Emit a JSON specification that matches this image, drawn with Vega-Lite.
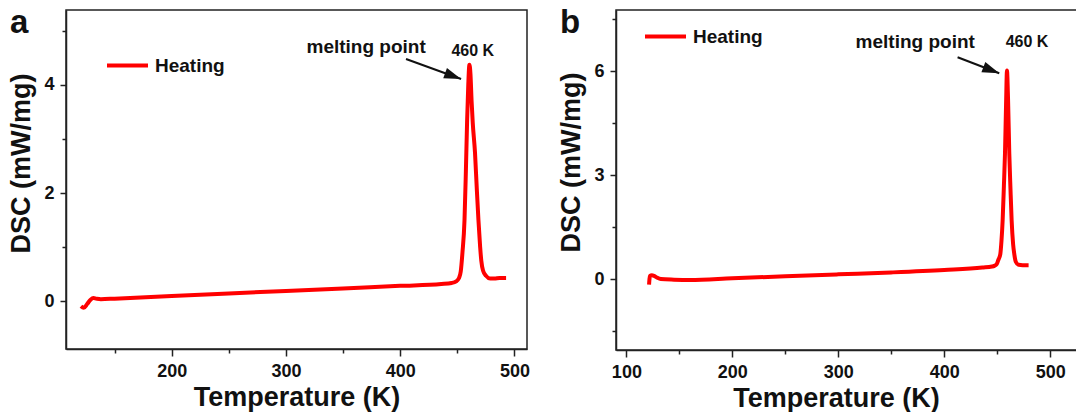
{
  "$schema": "https://vega.github.io/schema/vega-lite/v6.json",
  "background": "white",
  "padding": {"left": 7, "top": 6, "right": 0, "bottom": 0},
  "spacing": 26,
  "config": {
    "view": {"stroke": "#222", "strokeWidth": 1.5},
    "font": "Liberation Sans",
    "axis": {
      "grid": false,
      "domainColor": "#222",
      "domainWidth": 1.5,
      "tickColor": "#222",
      "tickWidth": 1.5,
      "tickSize": 7,
      "labelFont": "Liberation Sans",
      "labelFontSize": 18,
      "labelFontWeight": "bold",
      "labelColor": "#111",
      "labelPadding": 6,
      "titleFont": "Liberation Sans",
      "titleFontSize": 27,
      "titleFontWeight": "bold",
      "titleColor": "#111"
    },
    "axisY": {"labelPadding": 6, "titlePadding": 8},
    "legend": {
      "orient": "none",
      "padding": 0,
      "symbolType": "stroke",
      "symbolSize": 1681,
      "symbolStrokeWidth": 4,
      "labelFont": "Liberation Sans",
      "labelFontSize": 19,
      "labelFontWeight": "bold",
      "labelColor": "#111",
      "labelOffset": 5
    }
  },
  "datasets": {
    "curveA": [
      {"T": 120.6, "DSC": -0.09}, {"T": 123.0, "DSC": -0.12}, {"T": 126.0, "DSC": -0.05}, {"T": 129.0, "DSC": 0.03},
      {"T": 131.5, "DSC": 0.06}, {"T": 134.0, "DSC": 0.05}, {"T": 138.0, "DSC": 0.04}, {"T": 150.0, "DSC": 0.05},
      {"T": 200.0, "DSC": 0.098}, {"T": 250.0, "DSC": 0.145}, {"T": 300.0, "DSC": 0.192}, {"T": 350.0, "DSC": 0.239},
      {"T": 400.0, "DSC": 0.286}, {"T": 436.0, "DSC": 0.32}, {"T": 445.0, "DSC": 0.34}, {"T": 449.0, "DSC": 0.37},
      {"T": 451.5, "DSC": 0.43}, {"T": 453.0, "DSC": 0.55}, {"T": 454.5, "DSC": 0.9}, {"T": 456.3, "DSC": 1.5},
      {"T": 457.5, "DSC": 2.4}, {"T": 458.6, "DSC": 3.35}, {"T": 459.6, "DSC": 4.0}, {"T": 460.6, "DSC": 4.37},
      {"T": 461.5, "DSC": 4.2}, {"T": 462.5, "DSC": 3.7}, {"T": 463.5, "DSC": 3.3}, {"T": 465.5, "DSC": 2.74},
      {"T": 467.0, "DSC": 2.1}, {"T": 468.5, "DSC": 1.5}, {"T": 470.0, "DSC": 1.0}, {"T": 471.0, "DSC": 0.75},
      {"T": 472.5, "DSC": 0.57}, {"T": 475.2, "DSC": 0.47}, {"T": 478.8, "DSC": 0.42}, {"T": 482.5, "DSC": 0.42},
      {"T": 487.0, "DSC": 0.43}, {"T": 492.7, "DSC": 0.43}
    ],
    "curveB": [
      {"T": 121.4, "DSC": -0.16}, {"T": 121.8, "DSC": 0.0}, {"T": 122.3, "DSC": 0.09}, {"T": 124.0, "DSC": 0.11},
      {"T": 126.2, "DSC": 0.09}, {"T": 129.0, "DSC": 0.04}, {"T": 132.5, "DSC": 0.0}, {"T": 145.0, "DSC": -0.02},
      {"T": 160.0, "DSC": -0.03}, {"T": 200.0, "DSC": 0.02}, {"T": 250.0, "DSC": 0.08}, {"T": 300.0, "DSC": 0.135},
      {"T": 350.0, "DSC": 0.19}, {"T": 400.0, "DSC": 0.26}, {"T": 436.0, "DSC": 0.33}, {"T": 445.0, "DSC": 0.36},
      {"T": 447.2, "DSC": 0.38}, {"T": 449.5, "DSC": 0.43}, {"T": 451.0, "DSC": 0.55}, {"T": 452.9, "DSC": 0.72},
      {"T": 454.0, "DSC": 1.1}, {"T": 455.1, "DSC": 1.69}, {"T": 456.3, "DSC": 2.7}, {"T": 457.3, "DSC": 3.61},
      {"T": 458.3, "DSC": 5.0}, {"T": 459.2, "DSC": 6.02}, {"T": 460.2, "DSC": 5.2}, {"T": 461.4, "DSC": 3.61},
      {"T": 462.5, "DSC": 2.6}, {"T": 463.6, "DSC": 1.69}, {"T": 465.0, "DSC": 1.0}, {"T": 466.1, "DSC": 0.72},
      {"T": 467.5, "DSC": 0.5}, {"T": 470.2, "DSC": 0.41}, {"T": 474.0, "DSC": 0.4}, {"T": 479.6, "DSC": 0.4}
    ],
    "labelsA": [
      {"T": 370.2, "DSC": 4.586, "label": "melting point"},
      {"T": 463.5, "DSC": 4.523, "label": "460 K"}
    ],
    "labelsB": [
      {"T": 372.6, "DSC": 6.676, "label": "melting point"},
      {"T": 478.1, "DSC": 6.714, "label": "460 K"}
    ],
    "arrowA": [{"T": 405.1, "DSC": 4.475, "T2": 453.3, "DSC2": 4.105}],
    "arrowB": [{"T": 412.6, "DSC": 6.405, "T2": 451.9, "DSC2": 5.942}]
  },
  "resolve": {"scale": {"color": "independent"}, "legend": {"color": "independent"}},
  "hconcat": [
    {
      "width": 461,
      "height": 339,
      "title": {"text": "a", "anchor": "start", "frame": "bounds", "font": "Liberation Sans", "fontSize": 33, "fontWeight": "bold", "color": "#111", "offset": 0, "dy": 30, "dx": 2},
      "layer": [
        {
          "data": {"name": "curveA"},
          "mark": {"type": "line", "strokeWidth": 4, "interpolate": "monotone"},
          "encoding": {
            "x": {"field": "T", "type": "quantitative", "scale": {"domain": [107.5, 511], "nice": false, "zero": false},
              "axis": {"title": "Temperature (K)", "values": [150, 200, 250, 300, 350, 400, 450, 500], "format": "d",
                "labelExpr": "datum.value % 100 == 0 ? datum.label : ''",
                "tickSize": {"condition": {"test": "datum.value % 100 != 0", "value": 4}, "value": 7}}},
            "y": {"field": "DSC", "type": "quantitative", "scale": {"domain": [-0.88, 5.38], "nice": false, "zero": false},
              "axis": {"title": "DSC (mW/mg)", "titleY": 153, "values": [0, 1, 2, 3, 4, 5], "format": "d",
                "labelExpr": "datum.value % 2 == 0 ? datum.label : ''",
                "tickSize": {"condition": {"test": "datum.value % 2 != 0", "value": 4}, "value": 6}}},
            "color": {"datum": "Heating", "type": "nominal", "scale": {"range": ["#ff0000"]},
              "legend": {"title": null, "legendX": 39, "legendY": 33}}
          }
        },
        {
          "data": {"name": "arrowA"},
          "mark": {"type": "rule", "strokeWidth": 2, "color": "#111"},
          "encoding": {
            "x": {"field": "T", "type": "quantitative"}, "y": {"field": "DSC", "type": "quantitative"},
            "x2": {"field": "T2"}, "y2": {"field": "DSC2"}
          }
        },
        {
          "data": {"name": "arrowA"},
          "mark": {"type": "point", "shape": "M0,0L-1,-0.32L-1,0.32Z", "filled": true, "color": "#111", "opacity": 1, "size": 1156, "angle": 20},
          "encoding": {
            "x": {"field": "T2", "type": "quantitative"}, "y": {"field": "DSC2", "type": "quantitative"}
          }
        },
        {
          "data": {"name": "labelsA"},
          "transform": [{"filter": "datum.label == 'melting point'"}],
          "mark": {"type": "text", "align": "center", "baseline": "alphabetic", "font": "Liberation Sans", "fontSize": 19, "fontWeight": "bold", "color": "#111"},
          "encoding": {
            "x": {"field": "T", "type": "quantitative"}, "y": {"field": "DSC", "type": "quantitative"},
            "text": {"field": "label"}
          }
        },
        {
          "data": {"name": "labelsA"},
          "transform": [{"filter": "datum.label == '460 K'"}],
          "mark": {"type": "text", "align": "center", "baseline": "alphabetic", "font": "Liberation Sans", "fontSize": 16, "fontWeight": "bold", "color": "#111"},
          "encoding": {
            "x": {"field": "T", "type": "quantitative"}, "y": {"field": "DSC", "type": "quantitative"},
            "text": {"field": "label"}
          }
        }
      ]
    },
    {
      "width": 466,
      "height": 340,
      "title": {"text": "b", "anchor": "start", "frame": "bounds", "font": "Liberation Sans", "fontSize": 33, "fontWeight": "bold", "color": "#111", "offset": 0, "dy": 30, "dx": 2},
      "layer": [
        {
          "data": {"name": "curveB"},
          "mark": {"type": "line", "strokeWidth": 4, "interpolate": "monotone"},
          "encoding": {
            "x": {"field": "T", "type": "quantitative", "scale": {"domain": [90.2, 530], "nice": false, "zero": false},
              "axis": {"title": "Temperature (K)", "titleX": 220, "values": [100, 150, 200, 250, 300, 350, 400, 450, 500], "format": "d",
                "labelExpr": "datum.value % 100 == 0 ? datum.label : ''",
                "tickSize": {"condition": {"test": "datum.value % 100 != 0", "value": 4}, "value": 7}}},
            "y": {"field": "DSC", "type": "quantitative", "scale": {"domain": [-2.05, 7.77], "nice": false, "zero": false},
              "axis": {"title": "DSC (mW/mg)", "titleY": 152, "values": [-1.5, 0, 1.5, 3, 4.5, 6, 7.5],
                "labelExpr": "datum.value % 3 == 0 ? datum.label : ''",
                "tickSize": {"condition": {"test": "datum.value % 3 != 0", "value": 4}, "value": 6}}},
            "color": {"datum": "Heating", "type": "nominal", "scale": {"range": ["#ff0000"]},
              "legend": {"title": null, "legendX": 27, "legendY": 4}}
          }
        },
        {
          "data": {"name": "arrowB"},
          "mark": {"type": "rule", "strokeWidth": 2, "color": "#111"},
          "encoding": {
            "x": {"field": "T", "type": "quantitative"}, "y": {"field": "DSC", "type": "quantitative"},
            "x2": {"field": "T2"}, "y2": {"field": "DSC2"}
          }
        },
        {
          "data": {"name": "arrowB"},
          "mark": {"type": "point", "shape": "M0,0L-1,-0.32L-1,0.32Z", "filled": true, "color": "#111", "opacity": 1, "size": 1156, "angle": 21},
          "encoding": {
            "x": {"field": "T2", "type": "quantitative"}, "y": {"field": "DSC2", "type": "quantitative"}
          }
        },
        {
          "data": {"name": "labelsB"},
          "transform": [{"filter": "datum.label == 'melting point'"}],
          "mark": {"type": "text", "align": "center", "baseline": "alphabetic", "font": "Liberation Sans", "fontSize": 19, "fontWeight": "bold", "color": "#111"},
          "encoding": {
            "x": {"field": "T", "type": "quantitative"}, "y": {"field": "DSC", "type": "quantitative"},
            "text": {"field": "label"}
          }
        },
        {
          "data": {"name": "labelsB"},
          "transform": [{"filter": "datum.label == '460 K'"}],
          "mark": {"type": "text", "align": "center", "baseline": "alphabetic", "font": "Liberation Sans", "fontSize": 16, "fontWeight": "bold", "color": "#111"},
          "encoding": {
            "x": {"field": "T", "type": "quantitative"}, "y": {"field": "DSC", "type": "quantitative"},
            "text": {"field": "label"}
          }
        }
      ]
    }
  ]
}
